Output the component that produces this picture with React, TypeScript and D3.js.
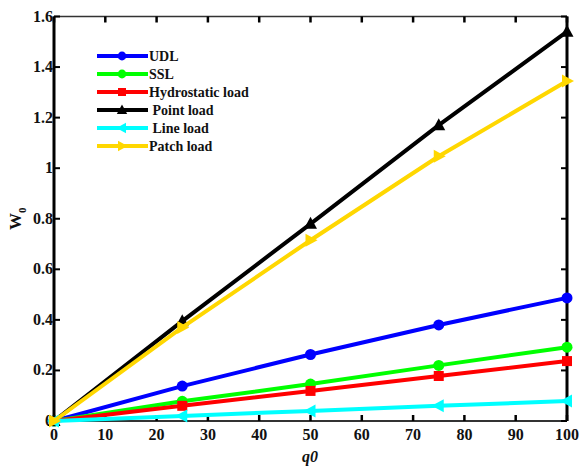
import React from "react";
import * as d3 from "d3";

const xs = [0, 25, 50, 75, 100];
const udl = [0, 0.138, 0.263, 0.38, 0.487];
const ssl = [0, 0.078, 0.146, 0.22, 0.292];
const hydro = [0, 0.06, 0.119, 0.178, 0.237];
const point = [0, 0.395, 0.78, 1.17, 1.54];
const lineLoad = [0, 0.02, 0.04, 0.06, 0.079];
const patch = [0, 0.37, 0.715, 1.047, 1.345];
const xTicks = [0, 10, 20, 30, 40, 50, 60, 70, 80, 90, 100];
const yTicks = [0, 0.2, 0.4, 0.6, 0.8, 1, 1.2, 1.4, 1.6];

const series = [
  { name: "UDL", values: udl, color: "#0000ff", marker: "circle" },
  { name: "SSL", values: ssl, color: "#00ff00", marker: "circle" },
  { name: "Hydrostatic load", values: hydro, color: "#ff0000", marker: "square" },
  { name: " Point load", values: point, color: "#000000", marker: "up" },
  { name: " Line load", values: lineLoad, color: "#00ffff", marker: "left" },
  { name: "Patch load", values: patch, color: "#ffd700", marker: "right" },
];

const W = 581, H = 467;
const L = 54, R = 567, T = 16.5, B = 421;
const font = "'Liberation Serif', 'Times New Roman', serif";

function Marker({ type, x, y, color, k = 1 }: { type: string; x: number; y: number; color: string; k?: number }) {
  if (type === "circle") return <circle cx={x} cy={y} r={5.5 * k} fill={color} />;
  if (type === "square") return <rect x={x - 5 * k} y={y - 5 * k} width={10 * k} height={10 * k} fill={color} />;
  let pts = "";
  const a = 7 * k, b = 5 * k, c = 6.5 * k;
  if (type === "up") pts = `${x},${y - a} ${x - c},${y + b} ${x + c},${y + b}`;
  if (type === "left") pts = `${x - a},${y} ${x + b},${y - c} ${x + b},${y + c}`;
  if (type === "right") pts = `${x + a},${y} ${x - b},${y - c} ${x - b},${y + c}`;
  return <polygon points={pts} fill={color} />;
}

export default function App() {
  const x = d3.scaleLinear().domain([0, 100]).range([L, R]);
  const y = d3.scaleLinear().domain([0, 1.6]).range([B, T]);
  const line = d3.line<number>().x((_, i) => x(xs[i])).y((d) => y(d));
  const legendX = 97, legendY0 = 56, legendDy = 18;
  return (
    <svg width={W} height={H} style={{ position: "absolute", left: 0, top: 0, background: "#fff" }}>
      <rect x={0} y={0} width={W} height={H} fill="#fff" />
      {/* frame */}
      <line x1={L} y1={T} x2={R} y2={T} stroke="#333" strokeWidth={1.5} />
      <line x1={L} y1={B} x2={R} y2={B} stroke="#333" strokeWidth={2} />
      <line x1={L} y1={T} x2={L} y2={B} stroke="#000" strokeWidth={3} />
      <line x1={R} y1={T} x2={R} y2={B} stroke="#000" strokeWidth={3} />
      {xTicks.map((t) => (
        <g key={"x" + t}>
          <line x1={x(t)} y1={B} x2={x(t)} y2={B - 6} stroke="#000" strokeWidth={2.5} />
          <line x1={x(t)} y1={T} x2={x(t)} y2={T + 6} stroke="#000" strokeWidth={2.5} />
          <text x={x(t)} y={B + 19} textAnchor="middle" fontFamily={font} fontWeight="bold" fontSize={16} fill="#111">
            {t}
          </text>
        </g>
      ))}
      {yTicks.map((t) => (
        <g key={"y" + t}>
          <line x1={L} y1={y(t)} x2={L + 6} y2={y(t)} stroke="#000" strokeWidth={2} />
          <line x1={R} y1={y(t)} x2={R - 6} y2={y(t)} stroke="#000" strokeWidth={2} />
          <text x={L - 1} y={y(t) + 5} textAnchor="end" fontFamily={font} fontWeight="bold" fontSize={16} fill="#111">
            {t}
          </text>
        </g>
      ))}
      {/* axis labels */}
      <text x={310} y={462} textAnchor="middle" fontFamily={font} fontWeight="bold" fontStyle="italic" fontSize={16} fill="#111">
        q0
      </text>
      <text transform={`translate(21,${y(0.8)}) rotate(-90)`} textAnchor="middle" fontFamily={font} fontWeight="bold" fontSize={17} fill="#111">
        W<tspan fontSize={11} dy={5}>0</tspan>
      </text>
      {/* series */}
      {series.map((s) => (
        <g key={s.name}>
          <path d={line(s.values) || ""} fill="none" stroke={s.color} strokeWidth={4} />
          {s.values.map((v, i) => (
            <Marker key={i} type={s.marker} x={x(xs[i])} y={y(v)} color={s.color} />
          ))}
        </g>
      ))}
      {/* legend */}
      {series.map((s, i) => {
        const ly = legendY0 + i * legendDy;
        return (
          <g key={"lg" + s.name}>
            <line x1={legendX} y1={ly} x2={legendX + 51} y2={ly} stroke={s.color} strokeWidth={4} />
            <Marker type={s.marker} x={legendX + 25} y={ly} color={s.color} k={0.8} />
            <text x={legendX + 52} y={ly + 5} fontFamily={font} fontWeight="bold" fontSize={14} fill="#111" style={{ whiteSpace: "pre" }}>
              {s.name}
            </text>
          </g>
        );
      })}
    </svg>
  );
}
